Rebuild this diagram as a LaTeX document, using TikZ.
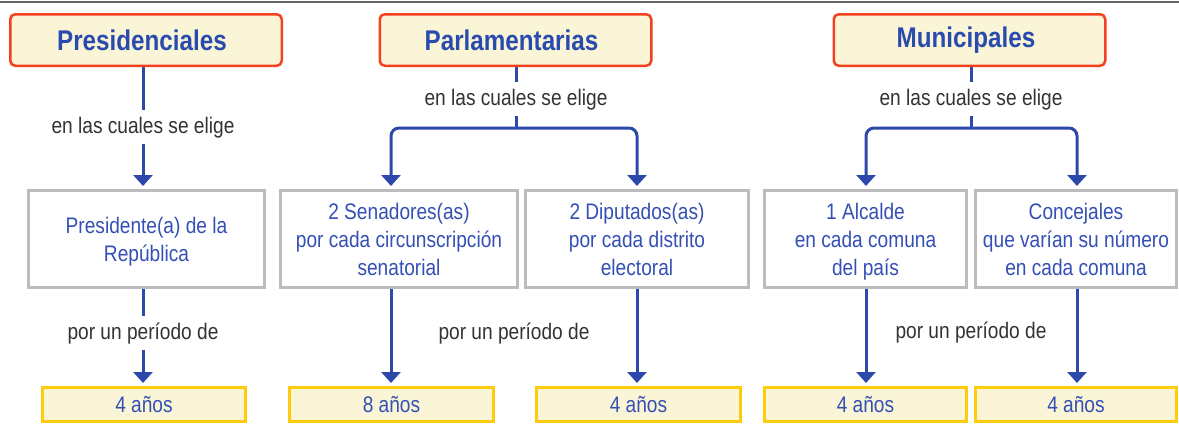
\documentclass[tikz,border=0pt]{standalone}
\usepackage{fontspec}
\setmainfont{Liberation Sans}[FakeStretch=0.85]
\usetikzlibrary{arrows.meta,backgrounds}
\definecolor{lineblue}{HTML}{2D48AB}
\definecolor{txtblue}{HTML}{3450B4}
\definecolor{ttlblue}{HTML}{2A4BAE}
\definecolor{redc}{HTML}{F2411E}
\definecolor{cream}{HTML}{FBF5D7}
\definecolor{goldc}{HTML}{FECC0A}
\definecolor{grayc}{HTML}{BCBCC0}
\definecolor{labc}{HTML}{333333}
\begin{document}
\begin{tikzpicture}[x=1pt,y=-1pt,
  title/.style={draw=redc,line width=2.5pt,fill=cream,rounded corners=5pt,
    minimum width=271.5pt,minimum height=51.5pt,inner sep=0pt,
    font=\fontsize{28.5}{32}\selectfont\bfseries,text=ttlblue},
  midbox/.style={draw=grayc,line width=3pt,fill=white,minimum height=97pt,inner sep=0pt,
    align=center,font=\fontsize{22.5}{28}\selectfont,text=txtblue,text depth=-1.6pt,
    execute at begin node=\strut, execute at end node=\strut},
  yrbox/.style={draw=goldc,line width=3pt,fill=cream,minimum height=34pt,inner sep=0pt,
    font=\fontsize{22.5}{28}\selectfont,text=txtblue},
  lab/.style={anchor=base,inner xsep=2pt,inner ysep=6pt,text height=17pt,text depth=5pt,
    font=\fontsize{22.5}{28}\selectfont,text=labc},
  conn/.style={draw=lineblue,line width=3pt},
  arr/.style={conn,-{Triangle[width=19pt,length=11pt]},shorten >=3pt}
]
\useasboundingbox (0,0) rectangle (1179,424);
\draw[draw=black!60,line width=1.5pt] (0,2) -- (1179,2);

% titles
\node[title] (t1) at (146,40) {Presidenciales\hspace*{8pt}};
\node[title] (t2) at (515.5,40) {Parlamentarias\hspace*{8pt}};
\node[title] (t3) at (969.5,40) {Municipales\hspace*{7pt}};

% labels
\node[lab] (l1) at (143,133) {en las cuales se elige};
\node[lab] (l2) at (516,105) {en las cuales se elige};
\node[lab] (l3) at (971,105) {en las cuales se elige};
\node[lab] (p1) at (143,339) {por un período de};
\node[lab] (p2) at (514,339) {por un período de};
\node[lab] (p3) at (971,338) {por un período de};

% middle boxes
\node[midbox,minimum width=236pt] (m1) at (146.5,239) {Presidente(a) de la\\República};
\node[midbox,minimum width=237pt] (m2) at (399,239) {2 Senadores(as)\\por cada circunscripción\\senatorial};
\node[midbox,minimum width=223pt] (m3) at (637,239) {2 Diputados(as)\\por cada distrito\\electoral};
\node[midbox,minimum width=202pt] (m4) at (865.5,239) {1 Alcalde\\en cada comuna\\del país};
\node[midbox,minimum width=201pt] (m5) at (1076,239) {Concejales\\que varían su número\\en cada comuna};

% bottom boxes
\node[yrbox,minimum width=203pt] (y1) at (144,404.5) {4 años};
\node[yrbox,minimum width=204pt] (y2) at (391.5,404.5) {8 años};
\node[yrbox,minimum width=204pt] (y3) at (638.5,404.5) {4 años};
\node[yrbox,minimum width=202pt] (y4) at (865.5,404.5) {4 años};
\node[yrbox,minimum width=201pt] (y5) at (1076,404.5) {4 años};

\coordinate (b2) at (516,128);
\coordinate (b3) at (971,128);
\coordinate (x2) at (391,0);
\coordinate (x3) at (637,0);
\coordinate (x4) at (866,0);
\coordinate (x5) at (1077,0);

\begin{scope}[on background layer]
% Presidenciales
\draw[conn] (t1.south -| l1.north) -- (l1.north);
\draw[arr] (l1.south) -- (m1.north -| l1.south);
\draw[conn] (m1.south -| p1.north) -- (p1.north);
\draw[arr] (p1.south) -- (y1.north -| p1.south);
% Parlamentarias
\draw[conn] (t2.south -| l2.north) -- (l2.north);
\draw[conn] (l2.south) -- (b2);
\draw[arr,rounded corners=8pt] (b2) -| (m2.north -| x2);
\draw[arr,rounded corners=8pt] (b2) -| (m3.north -| x3);
\draw[arr] (m2.south -| x2) -- (y2.north -| x2);
\draw[arr] (m3.south -| x3) -- (y3.north -| x3);
% Municipales
\draw[conn] (t3.south -| l3.north) -- (l3.north);
\draw[conn] (l3.south) -- (b3);
\draw[arr,rounded corners=8pt] (b3) -| (m4.north -| x4);
\draw[arr,rounded corners=8pt] (b3) -| (m5.north -| x5);
\draw[arr] (m4.south -| x4) -- (y4.north -| x4);
\draw[arr] (m5.south -| x5) -- (y5.north -| x5);
\end{scope}
\end{tikzpicture}
\end{document}
